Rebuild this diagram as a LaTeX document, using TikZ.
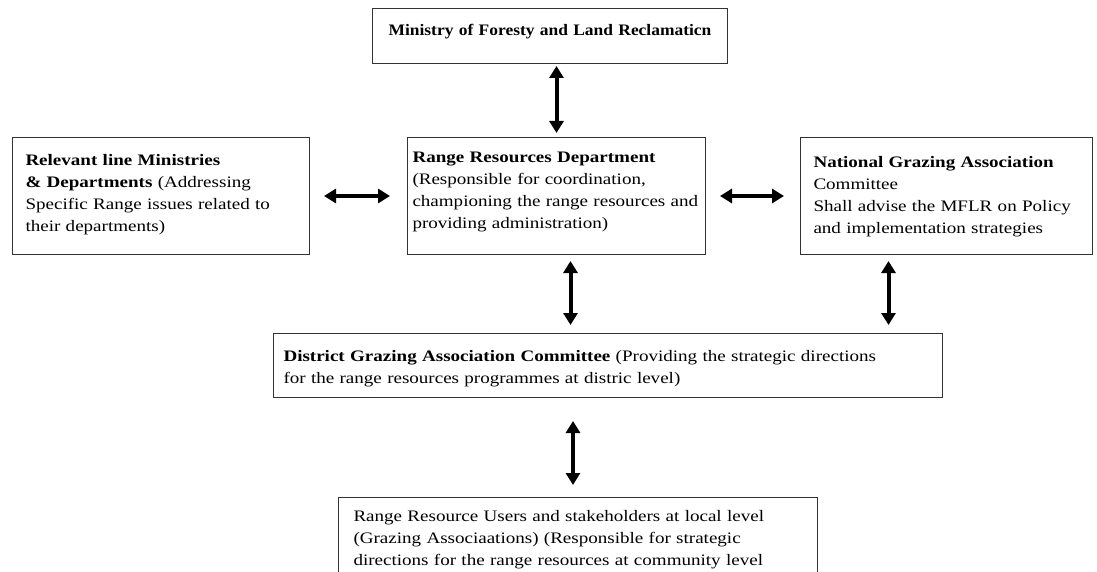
\documentclass[tikz,border=0pt]{standalone}
\usepackage{fontspec}
\setmainfont{Liberation Serif}[FakeStretch=1.19]
\newfontfamily\minfont{Liberation Serif}[FakeStretch=1.09]
\usetikzlibrary{arrows.meta}
\tikzset{
  orgbox/.style={draw=black!80, line width=1pt, anchor=north west, align=left,
    inner ysep=0pt, font=\fontsize{16}{22}\selectfont},
  biarrow/.style={line width=4pt, >={Triangle[length=12pt,width=14pt]}, <->}
}
\begin{document}
\begin{tikzpicture}[x=1pt,y=-1pt]
     \useasboundingbox (0,0) rectangle (1097,572);
     \clip (0,0) rectangle (1097,572);
     \node[orgbox, align=center, inner xsep=5pt, text width=345pt,
       text height=27pt, text depth=28pt, font=\minfont\fontsize{16}{22}\selectfont] (min) at (372,8)
       {\textbf{Ministry of Foresty and Land Reclamaticn}};
     \node[orgbox, inner xsep=13pt, text width=271pt,
       text height=28pt, text depth=89pt] (rlm) at (12,137)
       {\textbf{Relevant line Ministries}\\ \textbf{\& Departments} (Addressing\\
        Specific Range issues related to\\ their departments)};
     \node[orgbox, inner xsep=5pt, text width=288pt,
       text height=25pt, text depth=92pt] (rrd) at (407,137)
       {\textbf{Range Resources Department}\\ (Responsible for coordination,\\
        championing the range resources and\\ providing administration)};
     \node[orgbox, inner xsep=13pt, text width=266pt,
       text height=30pt, text depth=87pt] (ngac) at (800,137)
       {\textbf{National Grazing Association}\\ Committee\\
        Shall advise the MFLR on Policy\\ and implementation strategies};
     \node[orgbox, inner xsep=10pt, text width=649pt,
       text height=28pt, text depth=36pt] (dgc) at (273,333)
       {\textbf{District Grazing Association Committee} (Providing the strategic directions\\
        for the range resources programmes at distric level)};
     \node[orgbox, inner xsep=15pt, text width=449pt,
       text height=24pt, text depth=70pt] (rru) at (338,497)
       {Range Resource Users and stakeholders at local level\\
        (Grazing Associaations) (Responsible for strategic\\
        directions for the range resources at community level};
     \draw[biarrow, shorten <=2pt, shorten >=4pt] (rrd.north |- min.south) -- (rrd.north);
     \draw[biarrow, shorten <=14pt, shorten >=17pt] (rlm.east) -- (rrd.west);
     \draw[biarrow, shorten <=14pt, shorten >=16pt] (rrd.east) -- (ngac.west);
     \draw[biarrow, shorten <=6pt, shorten >=8pt]
       ([xshift=14pt]rrd.south) -- ([xshift=14pt]rrd.south |- dgc.north);
     \draw[biarrow, shorten <=6pt, shorten >=8pt]
       ([xshift=-58pt]ngac.south) -- ([xshift=-58pt]ngac.south |- dgc.north);
     \draw[biarrow, shorten <=23pt, shorten >=12pt]
       ([xshift=-5pt]rru.north |- dgc.south) -- ([xshift=-5pt]rru.north);
    \end{tikzpicture}
\end{document}
